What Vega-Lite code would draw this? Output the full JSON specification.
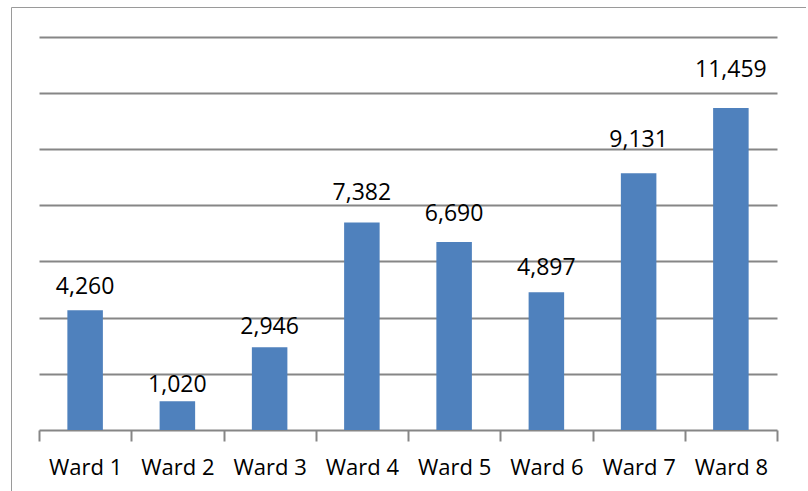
{
  "$schema": "https://vega.github.io/schema/vega-lite/v6.json",
  "width": 795,
  "height": 484,
  "autosize": {"type": "none"},
  "padding": {"left": 11, "top": 7, "right": 0, "bottom": 0},
  "background": "white",
  "config": {"view": {"stroke": "#9a9a9a", "strokeWidth": 1}, "font": "Open Sans"},
  "data": {"values": [
    {"ward": "Ward 1", "pop": 4260},
    {"ward": "Ward 2", "pop": 1020},
    {"ward": "Ward 3", "pop": 2946},
    {"ward": "Ward 4", "pop": 7382},
    {"ward": "Ward 5", "pop": 6690},
    {"ward": "Ward 6", "pop": 4897},
    {"ward": "Ward 7", "pop": 9131},
    {"ward": "Ward 8", "pop": 11459}
  ]},
  "layer": [
    {
      "mark": {"type": "bar", "color": "#4f81bd", "width": {"band": 0.385}},
      "encoding": {
        "x": {
          "field": "ward", "type": "nominal", "sort": null,
          "scale": {"range": [28, 766], "paddingInner": 0, "paddingOuter": 0},
          "axis": {
            "title": null, "labelAngle": 0, "labelFont": "Open Sans", "labelFontSize": 22,
            "labelColor": "black", "labelBaseline": "alphabetic", "labelPadding": 33,
            "tickBand": "extent", "tickSize": 11, "tickWidth": 2, "tickColor": "#868686",
            "domainColor": "#868686", "domainWidth": 2, "offset": -61, "grid": false
          }
        },
        "y": {
          "field": "pop", "type": "quantitative",
          "scale": {"domain": [0, 14000], "range": [423, 29.5], "nice": false},
          "axis": {
            "title": null, "labels": false, "ticks": false, "domain": false, "grid": true,
            "values": [2000, 4000, 6000, 8000, 10000, 12000, 14000],
            "gridColor": "#868686", "gridWidth": 2
          }
        }
      }
    },
    {
      "mark": {"type": "text", "baseline": "alphabetic", "fontSize": 23, "font": "Open Sans", "color": "black"},
      "encoding": {
        "x": {"field": "ward", "type": "nominal", "sort": null},
        "y": {
          "field": "pop", "type": "quantitative",
          "scale": {"domain": [0, 14000], "range": [416.3, -7.3], "nice": false},
          "axis": null
        },
        "text": {"field": "pop", "type": "quantitative", "format": ","}
      }
    }
  ],
  "resolve": {"scale": {"y": "independent"}}
}
